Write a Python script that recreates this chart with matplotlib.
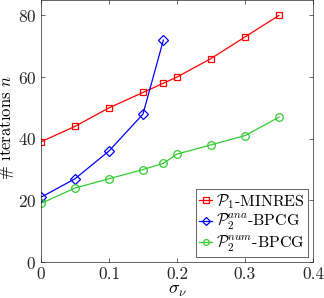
import matplotlib
matplotlib.use('Agg')
import matplotlib.pyplot as plt

plt.rcParams['mathtext.fontset'] = 'cm'
plt.rcParams['font.family'] = 'cmr10'
plt.rcParams['axes.formatter.use_mathtext'] = True

# data
sigma = [0, 0.05, 0.1, 0.15, 0.18, 0.2, 0.25, 0.3, 0.35]
minres = [39, 44, 50, 55, 58, 60, 66, 73, 80]
sigma_ana = [0, 0.05, 0.1, 0.15, 0.18]
bpcg_ana = [21, 27, 36, 48, 72]
bpcg_num = [19, 24, 27, 30, 32, 35, 38, 41, 47]

fig = plt.figure(figsize=(3.24, 2.98), dpi=100)
ax = fig.add_axes([0.1265, 0.1208, 0.8395, 0.8792])

ax.plot(sigma, minres, '-s', color='#ff0000', lw=0.9, ms=5, mfc='none', mew=0.9,
        label=r'$\mathcal{P}_1$-MINRES')
ax.plot(sigma_ana, bpcg_ana, '-D', color='#0000ff', lw=0.9, ms=5, mfc='none', mew=0.9,
        label=r'$\mathcal{P}_2^{ana}$-BPCG')
ax.plot(sigma, bpcg_num, '-o', color='#33cc33', lw=0.9, ms=5.5, mfc='none', mew=0.9,
        label=r'$\mathcal{P}_2^{num}$-BPCG')

ax.set_xlim(0, 0.4)
ax.set_ylim(0, 85)
ax.set_xticks([0, 0.1, 0.2, 0.3, 0.4])
ax.set_xticklabels(['0', '0.1', '0.2', '0.3', '0.4'])
ax.set_yticks([0, 20, 40, 60, 80])
ax.tick_params(direction='in', top=True, right=True, labelsize=12.5, colors='#262626',
               length=3, width=0.5)
for s in ax.spines.values():
    s.set_color('#262626')
    s.set_linewidth(0.5)

ax.set_xlabel(r'$\sigma_\nu$', fontsize=13, labelpad=1)
ax.set_ylabel(r'# iterations $n$', fontsize=12)
ax.yaxis.set_label_coords(-0.092, 0.515)

leg = ax.legend(loc='lower right', fontsize=11.5, handlelength=0.8, handletextpad=0.25,
                borderpad=0.2, labelspacing=0.1, borderaxespad=0.3, fancybox=False,
                framealpha=1, markerscale=0.75)
leg.get_frame().set_edgecolor('#262626')
leg.get_frame().set_linewidth(0.5)

fig.savefig('out.png', dpi=100)
